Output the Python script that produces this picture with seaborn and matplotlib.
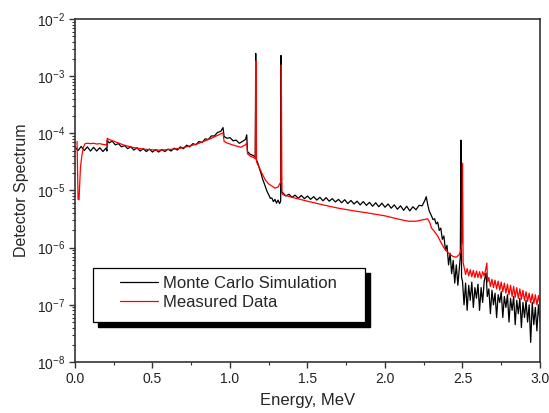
import numpy as np
import pandas as pd
import matplotlib
matplotlib.use("Agg")
import matplotlib.pyplot as plt
import matplotlib.ticker as mticker
from matplotlib.patches import Rectangle
import seaborn as sns

# Monte Carlo simulated spectrum (energy in MeV, spectrum value)
mc_energy = [
    0.005, 0.02, 0.04, 0.06, 0.08, 0.10, 0.12, 0.14, 0.16, 0.18, 0.20, 0.206,
    0.208, 0.22, 0.24, 0.26, 0.28, 0.30, 0.32, 0.34, 0.36, 0.38, 0.40, 0.42,
    0.44, 0.46, 0.48, 0.50, 0.52, 0.54, 0.56, 0.58, 0.60, 0.62, 0.64, 0.66,
    0.68, 0.70, 0.72, 0.74, 0.76, 0.78, 0.80, 0.82, 0.84, 0.86, 0.88, 0.90,
    0.92, 0.94, 0.955, 0.962, 0.98, 1.00, 1.02, 1.04, 1.06, 1.08, 1.10, 1.108,
    1.113, 1.13, 1.15, 1.163, 1.166, 1.169, 1.18, 1.19, 1.20, 1.21, 1.22, 1.23,
    1.24, 1.25, 1.26, 1.27, 1.28, 1.29, 1.30, 1.31, 1.32, 1.327, 1.329, 1.332,
    1.34, 1.36, 1.38, 1.40, 1.42, 1.44, 1.46, 1.48, 1.50, 1.52, 1.54, 1.56,
    1.58, 1.60, 1.62, 1.64, 1.66, 1.68, 1.70, 1.72, 1.74, 1.76, 1.78, 1.80,
    1.82, 1.84, 1.86, 1.88, 1.90, 1.92, 1.94, 1.96, 1.98, 2.00, 2.02, 2.04,
    2.06, 2.08, 2.10, 2.12, 2.14, 2.16, 2.18, 2.20, 2.22, 2.24, 2.26, 2.266,
    2.275, 2.285, 2.30, 2.31, 2.32, 2.33, 2.34, 2.35, 2.36, 2.37, 2.38, 2.39,
    2.40, 2.41, 2.42, 2.43, 2.44, 2.45, 2.46, 2.47, 2.48, 2.486, 2.490, 2.494,
    2.50, 2.51, 2.52, 2.53, 2.54, 2.55, 2.56, 2.57, 2.58, 2.59, 2.60, 2.61,
    2.62, 2.63, 2.64, 2.652, 2.66, 2.67, 2.68, 2.69, 2.70, 2.71, 2.72, 2.73,
    2.74, 2.75, 2.76, 2.77, 2.78, 2.79, 2.80, 2.81, 2.82, 2.83, 2.84, 2.85,
    2.86, 2.87, 2.88, 2.89, 2.90, 2.91, 2.92, 2.93, 2.94, 2.95, 2.96, 2.97,
    2.98, 2.99, 3.00,
]
mc_spectrum = [
    5.6e-5, 5.0e-5, 5.9e-5, 5.0e-5, 5.8e-5, 4.9e-5, 5.7e-5, 4.9e-5, 5.6e-5, 4.8e-5, 5.5e-5, 4.9e-5,
    7.6e-5, 6.8e-5, 7.3e-5, 6.3e-5, 6.6e-5, 5.8e-5, 6.1e-5, 5.4e-5, 5.8e-5, 5.1e-5, 5.6e-5, 4.9e-5,
    5.4e-5, 4.8e-5, 5.3e-5, 4.7e-5, 5.2e-5, 4.7e-5, 5.2e-5, 4.8e-5, 5.3e-5, 4.9e-5, 5.5e-5, 5.1e-5,
    5.8e-5, 5.4e-5, 6.2e-5, 5.8e-5, 6.6e-5, 6.3e-5, 7.2e-5, 6.9e-5, 8.0e-5, 7.8e-5, 9.0e-5, 9.0e-5,
    1.04e-4, 1.08e-4, 1.26e-4, 8.8e-5, 8.2e-5, 8.4e-5, 7.4e-5, 7.6e-5, 6.7e-5, 7.2e-5, 7.8e-5, 9.4e-5,
    4.8e-5, 4.3e-5, 4.1e-5, 3.8e-5, 2.5e-3, 3.5e-5, 3.0e-5, 2.4e-5, 2.0e-5, 1.6e-5, 1.35e-5, 1.15e-5,
    9.5e-6, 8.4e-6, 7.3e-6, 7.4e-6, 6.4e-6, 7.0e-6, 6.0e-6, 6.8e-6, 5.9e-6, 6.5e-6, 2.3e-3, 9.5e-6,
    9.2e-6, 8.0e-6, 8.6e-6, 7.6e-6, 8.3e-6, 7.3e-6, 8.2e-6, 7.2e-6, 8.0e-6, 7.0e-6, 7.8e-6, 6.8e-6,
    7.6e-6, 6.6e-6, 7.5e-6, 6.5e-6, 7.2e-6, 6.3e-6, 7.0e-6, 6.1e-6, 6.9e-6, 5.9e-6, 6.7e-6, 5.8e-6,
    6.5e-6, 5.6e-6, 6.4e-6, 5.5e-6, 6.2e-6, 5.3e-6, 6.1e-6, 5.2e-6, 6.0e-6, 5.1e-6, 5.8e-6, 4.9e-6,
    5.6e-6, 4.7e-6, 5.4e-6, 4.5e-6, 5.3e-6, 4.4e-6, 5.2e-6, 4.6e-6, 5.5e-6, 5.4e-6, 7.0e-6, 7.8e-6,
    5.8e-6, 4.4e-6, 3.6e-6, 3.1e-6, 3.2e-6, 2.6e-6, 2.8e-6, 2.0e-6, 2.2e-6, 1.4e-6, 1.6e-6, 9.0e-7,
    1.1e-6, 5.0e-7, 8.0e-7, 3.5e-7, 6.0e-7, 2.4e-7, 5.0e-7, 2.2e-7, 4.5e-7, 7.0e-7, 7.6e-5, 3.0e-7,
    2.6e-7, 1.0e-7, 2.4e-7, 8.0e-8, 2.2e-7, 1.2e-7, 2.5e-7, 9.0e-8, 2.0e-7, 1.3e-7, 2.3e-7, 8.0e-8,
    2.0e-7, 1.1e-7, 2.6e-7, 3.6e-7, 1.4e-7, 1.9e-7, 7.0e-8, 1.8e-7, 1.0e-7, 1.6e-7, 6.0e-8, 1.5e-7,
    1.1e-7, 1.7e-7, 6.0e-8, 1.4e-7, 9.0e-8, 1.5e-7, 5.0e-8, 1.3e-7, 8.0e-8, 1.4e-7, 4.5e-8, 1.2e-7,
    7.0e-8, 1.3e-7, 4.0e-8, 1.1e-7, 6.0e-8, 1.2e-7, 5.0e-8, 1.0e-7, 2.2e-8, 1.1e-7, 4.5e-8, 9.0e-8,
    3.5e-8, 1.0e-7, 5.0e-8,
]

# Measured spectrum
meas_energy = [
    0.013, 0.020, 0.026, 0.035, 0.045, 0.055, 0.065, 0.08, 0.10, 0.12, 0.14, 0.16,
    0.18, 0.20, 0.206, 0.208, 0.22, 0.25, 0.28, 0.31, 0.34, 0.37, 0.40, 0.44,
    0.48, 0.52, 0.56, 0.60, 0.64, 0.68, 0.72, 0.76, 0.80, 0.84, 0.88, 0.92,
    0.955, 0.962, 0.98, 1.00, 1.04, 1.07, 1.10, 1.108, 1.113, 1.13, 1.15, 1.163,
    1.168, 1.171, 1.18, 1.19, 1.21, 1.23, 1.25, 1.27, 1.29, 1.31, 1.32, 1.328,
    1.331, 1.335, 1.34, 1.40, 1.50, 1.60, 1.70, 1.80, 1.90, 2.00, 2.10, 2.15,
    2.20, 2.25, 2.275, 2.29, 2.30, 2.32, 2.34, 2.36, 2.38, 2.40, 2.42, 2.44,
    2.46, 2.48, 2.49, 2.496, 2.50, 2.504, 2.51, 2.52, 2.53, 2.54, 2.55, 2.56,
    2.57, 2.58, 2.59, 2.60, 2.61, 2.62, 2.63, 2.64, 2.65, 2.657, 2.662, 2.67,
    2.68, 2.69, 2.70, 2.71, 2.72, 2.73, 2.74, 2.75, 2.76, 2.77, 2.78, 2.79,
    2.80, 2.81, 2.82, 2.83, 2.84, 2.85, 2.86, 2.87, 2.88, 2.89, 2.90, 2.91,
    2.92, 2.93, 2.94, 2.95, 2.96, 2.97, 2.98, 2.99, 3.00,
]
meas_spectrum = [
    7.2e-5, 7.0e-6, 6.9e-6, 2.5e-5, 4.2e-5, 5.8e-5, 6.6e-5, 6.7e-5, 6.6e-5, 6.7e-5, 6.5e-5, 6.6e-5,
    6.4e-5, 6.3e-5, 6.2e-5, 8.2e-5, 7.8e-5, 7.3e-5, 6.8e-5, 6.3e-5, 6.0e-5, 5.7e-5, 5.5e-5, 5.3e-5,
    5.2e-5, 5.1e-5, 5.1e-5, 5.2e-5, 5.3e-5, 5.5e-5, 5.8e-5, 6.2e-5, 6.7e-5, 7.4e-5, 8.2e-5, 9.2e-5,
    1.02e-4, 7.2e-5, 6.8e-5, 6.5e-5, 6.0e-5, 5.7e-5, 6.3e-5, 6.8e-5, 4.4e-5, 4.0e-5, 3.8e-5, 3.6e-5,
    1.85e-3, 3.2e-5, 2.8e-5, 2.5e-5, 1.9e-5, 1.5e-5, 1.3e-5, 1.2e-5, 1.1e-5, 1.15e-5, 1.3e-5, 1.4e-5,
    1.57e-3, 9.0e-6, 8.5e-6, 7.6e-6, 6.5e-6, 5.6e-6, 4.9e-6, 4.4e-6, 4.0e-6, 3.6e-6, 3.1e-6, 2.9e-6,
    2.9e-6, 3.1e-6, 3.2e-6, 2.7e-6, 2.2e-6, 1.9e-6, 1.6e-6, 1.25e-6, 1.0e-6, 8.5e-7, 7.6e-7, 7.0e-7,
    6.8e-7, 7.6e-7, 9.0e-7, 1.3e-6, 3.0e-5, 5.5e-7, 4.6e-7, 3.4e-7, 4.3e-7, 3.2e-7, 4.1e-7, 3.1e-7,
    4.0e-7, 3.0e-7, 3.9e-7, 3.0e-7, 3.8e-7, 2.9e-7, 3.8e-7, 3.2e-7, 4.2e-7, 5.4e-7, 2.5e-7, 3.0e-7,
    2.1e-7, 2.8e-7, 2.0e-7, 2.7e-7, 1.9e-7, 2.6e-7, 1.8e-7, 2.5e-7, 1.7e-7, 2.4e-7, 1.6e-7, 2.3e-7,
    1.5e-7, 2.2e-7, 1.4e-7, 2.1e-7, 1.35e-7, 2.0e-7, 1.3e-7, 1.9e-7, 1.25e-7, 1.8e-7, 1.2e-7, 1.7e-7,
    1.15e-7, 1.6e-7, 1.1e-7, 1.55e-7, 1.05e-7, 1.5e-7, 1.0e-7, 1.45e-7, 1.0e-7,
]

x_ticks = [0.0, 0.5, 1.0, 1.5, 2.0, 2.5, 3.0]
series_labels = ["Monte Carlo Simulation", "Measured Data"]

sns.set_style("ticks")
plt.rcParams["font.family"] = ["Liberation Sans", "DejaVu Sans"]
plt.rcParams["mathtext.fontset"] = "custom"
plt.rcParams["mathtext.rm"] = "Liberation Sans"
plt.rcParams["mathtext.it"] = "Liberation Sans:italic"

fig, ax = plt.subplots(figsize=(5.49, 4.13), dpi=100)
fig.subplots_adjust(left=0.1366, right=0.9836, bottom=0.1235, top=0.954)

sns.lineplot(x=mc_energy, y=mc_spectrum, ax=ax, color="black", lw=0.9,
             estimator=None, sort=False, label=series_labels[0], legend=False)
sns.lineplot(x=meas_energy, y=meas_spectrum, ax=ax, color="#ff0000", lw=0.9,
             estimator=None, sort=False, label=series_labels[1], legend=False)

ax.set_yscale("log")
ax.set_ylim(1e-8, 1e-2)
ax.set_xlim(0, 3.0)
ax.set_xticks(x_ticks)
ax.xaxis.set_major_formatter(mticker.FormatStrFormatter("%.1f"))
ax.xaxis.set_minor_locator(mticker.AutoMinorLocator(2))
ax.yaxis.set_major_locator(mticker.LogLocator(base=10, numticks=10))
ax.yaxis.set_minor_locator(mticker.LogLocator(base=10, subs=np.arange(2, 10), numticks=20))
ax.yaxis.set_minor_formatter(mticker.NullFormatter())

for s in ax.spines.values():
    s.set_color("#333333")
    s.set_linewidth(1.2)
ax.tick_params(which="major", length=4, width=1, color="#333333",
               labelsize=10, labelcolor="#222222", pad=3)
ax.tick_params(which="minor", length=2.5, width=0.8, color="#333333")

ax.set_xlabel("Energy, MeV", fontsize=12, labelpad=5)
ax.set_ylabel("Detector Spectrum", fontsize=11.5, labelpad=6)

# legend box with a solid black drop shadow
bx, by, bw, bh = 0.0387, 0.1166, 0.585, 0.1574
ax.add_patch(Rectangle((bx + 0.011, by - 0.0146), bw, bh, transform=ax.transAxes,
                       facecolor="black", edgecolor="black", zorder=5))
ax.add_patch(Rectangle((bx, by), bw, bh, transform=ax.transAxes,
                       facecolor="white", edgecolor="black", lw=0.9, zorder=6))
leg = ax.legend(loc="center left", bbox_to_anchor=(0.0968, 0.201), frameon=False,
                fontsize=12, handlelength=2.3, handletextpad=0.3, labelspacing=0.25,
                borderpad=0, borderaxespad=0)
leg.set_zorder(7)
for h in leg.get_lines():
    h.set_linewidth(0.9)

fig.savefig("out.png", dpi=100)
